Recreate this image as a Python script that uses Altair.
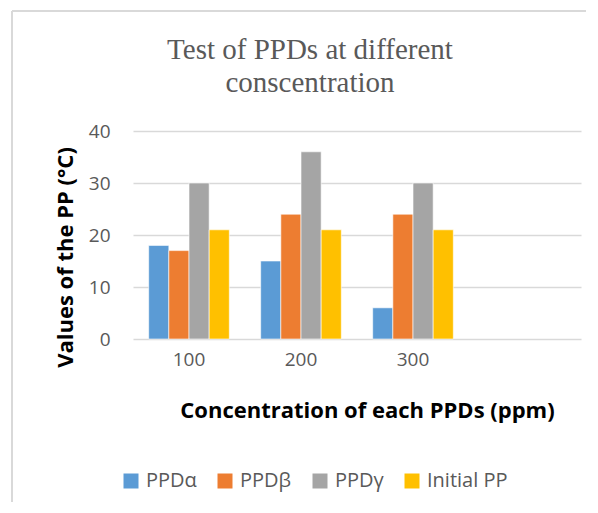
import altair as alt
import pandas as pd

categories = ["100", "200", "300"]
axis_domain = ["100", "200", "300", " "]
series_names = ["PPDα", "PPDβ", "PPDγ", "Initial PP"]
ppd_alpha = [18, 15, 6]
ppd_beta = [17, 24, 24]
ppd_gamma = [30, 36, 30]
initial_pp = [21, 21, 21]
colors = ["#5B9BD5", "#ED7D31", "#A5A5A5", "#FFC000"]
y_ticks = [0, 10, 20, 30, 40]

rows = []
for name, vals in zip(series_names, [ppd_alpha, ppd_beta, ppd_gamma, initial_pp]):
    for c, v in zip(categories, vals):
        rows.append({"conc": c, "series": name, "value": v})
df = pd.DataFrame(rows)

FONT = "Open Sans"
GRAY = "#595959"

bars = alt.Chart(df).mark_bar(stroke="white", strokeWidth=0.6).encode(
    x=alt.X("conc:N",
            scale=alt.Scale(domain=axis_domain, paddingInner=0.28, paddingOuter=0.14),
            axis=alt.Axis(title="Concentration of each PPDs (ppm)", labelAngle=0,
                          labelFont=FONT, labelFontSize=19, labelColor=GRAY,
                          labelPadding=11, ticks=False, tickSize=0, domain=False, grid=False,
                          titleFont=FONT, titleFontSize=22, titleFontWeight="bold",
                          titleColor="black", titleX=234, titleY=78,
                          titleBaseline="alphabetic", titleAlign="center")),
    xOffset=alt.XOffset("series:N", scale=alt.Scale(domain=series_names, paddingInner=0, paddingOuter=0)),
    y=alt.Y("value:Q", scale=alt.Scale(domain=[0, 40], nice=False),
            axis=alt.Axis(title="Values  of the PP (°C)", values=y_ticks,
                          labelFont=FONT, labelFontSize=19, labelColor=GRAY,
                          labelPadding=23, ticks=False, tickSize=0, domain=False,
                          gridColor="#D9D9D9", gridWidth=1.5,
                          titleFont=FONT, titleFontSize=22, titleFontWeight="bold",
                          titleColor="black", titleX=-61, titleY=126, titleAngle=-90,
                          titleBaseline="alphabetic", titleAlign="center")),
    color=alt.Color("series:N", scale=alt.Scale(domain=series_names, range=colors),
                    legend=alt.Legend(title=None, orient="none", direction="horizontal",
                                      legendX=-12, legendY=340, padding=0,
                                      symbolType="square", symbolSize=225, symbolStrokeWidth=0,
                                      labelFont=FONT, labelFontSize=20, labelColor=GRAY,
                                      labelOffset=5, columnPadding=18, columns=4)),
)

border_left = alt.Chart().mark_rule(color="#D9D9D9", strokeWidth=2).encode(
    x=alt.value(-121), y=alt.value(-120), y2=alt.value(400))
border_top = alt.Chart().mark_rule(color="#D9D9D9", strokeWidth=2).encode(
    x=alt.value(-121), x2=alt.value(480), y=alt.value(-120))

chart = alt.layer(border_left, border_top, bars).properties(
    width=448, height=208,
    autosize=alt.AutoSizeParams(type="none"),
    padding={"left": 125, "top": 123, "right": 5, "bottom": 163},
    title=alt.TitleParams(text=["Test of PPDs at different", "conscentration"],
                          font="Liberation Serif", fontSize=29, fontWeight="normal",
                          color=GRAY, anchor="middle", frame="group", lineHeight=33,
                          baseline="alphabetic", dx=-47, offset=-111),
).configure_view(stroke=None)

chart.save("out.html", embed_options={"renderer": "svg", "actions": False})
